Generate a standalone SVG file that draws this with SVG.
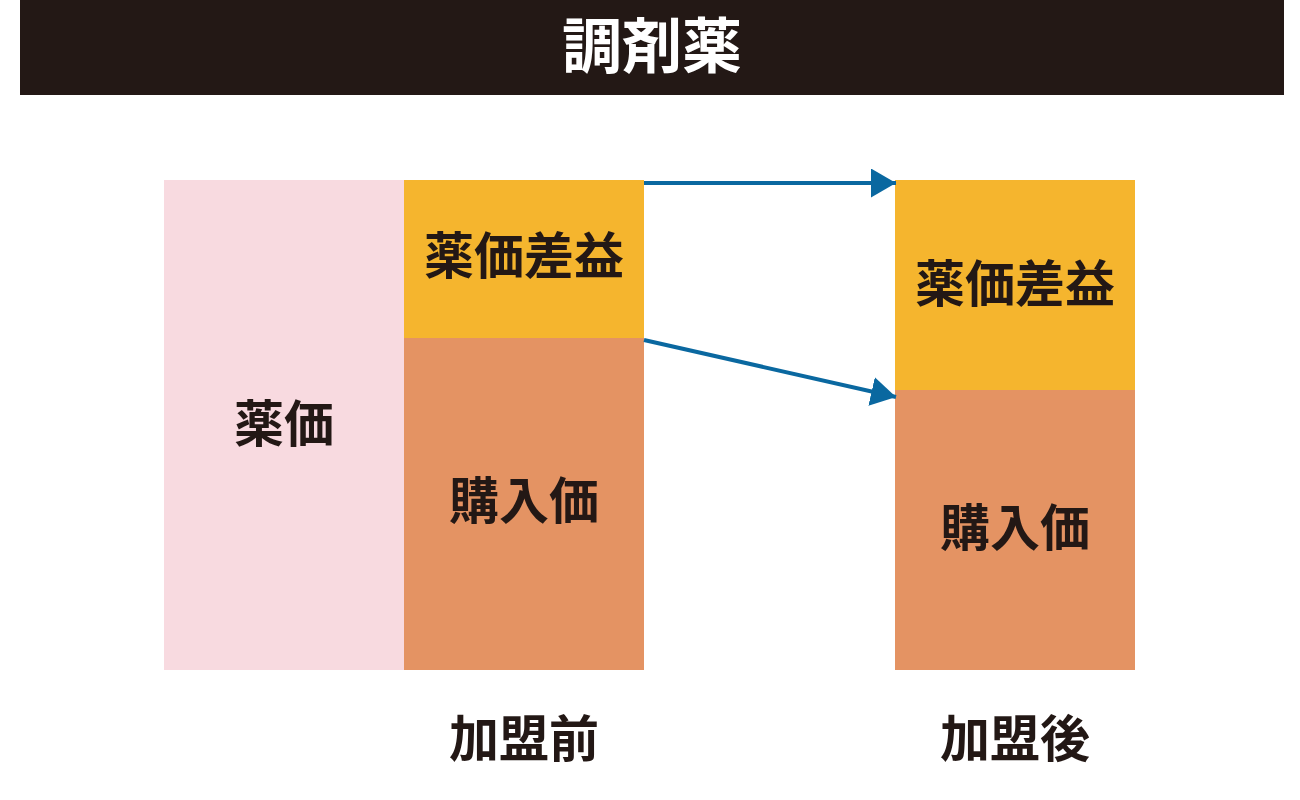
<svg xmlns="http://www.w3.org/2000/svg" width="1300" height="800" viewBox="0 0 1300 800">
<defs>
<style>
.t{font-family:"Noto Sans CJK JP","Noto Sans CJK SC",sans-serif;font-weight:bold;fill:#231815;text-anchor:middle;dominant-baseline:central;font-size:50px}
.conn{stroke:#0a68a0;stroke-width:4;fill:none}
</style>
<marker id="ah" viewBox="0 0 25 29" refX="25" refY="14.5" markerWidth="25" markerHeight="29" markerUnits="userSpaceOnUse" orient="auto">
<path d="M0,0 L25,14.5 L0,29 Z" fill="#0a68a0"/>
</marker>
</defs>
<rect width="1300" height="800" fill="#ffffff"/>
<g id="header">
<rect x="20" y="0" width="1264" height="95" fill="#231815"/>
<text class="t" x="652" y="41" style="fill:#ffffff;font-size:60px">調剤薬</text>
</g>
<g id="yakka">
<rect x="164" y="180" width="240" height="490" fill="#f8dae0"/>
<text class="t" x="284" y="420">薬価</text>
</g>
<g id="before-margin">
<rect x="404" y="180" width="240" height="158" fill="#f5b52e"/>
<text class="t" x="524" y="252">薬価差益</text>
</g>
<g id="before-cost">
<rect x="404" y="338" width="240" height="332" fill="#e49363"/>
<text class="t" x="524" y="497">購入価</text>
</g>
<g id="after-margin">
<rect x="895" y="180" width="240" height="210" fill="#f5b52e"/>
<text class="t" x="1015" y="280">薬価差益</text>
</g>
<g id="after-cost">
<rect x="895" y="390" width="240" height="280" fill="#e49363"/>
<text class="t" x="1015" y="524">購入価</text>
</g>
<g id="label-before"><text class="t" x="524" y="735">加盟前</text></g>
<g id="label-after"><text class="t" x="1015" y="735">加盟後</text></g>
<g id="connectors">
<line class="conn" x1="644" y1="183" x2="896" y2="183" marker-end="url(#ah)"/>
<line class="conn" x1="644" y1="340" x2="896" y2="397" marker-end="url(#ah)"/>
</g>
</svg>
